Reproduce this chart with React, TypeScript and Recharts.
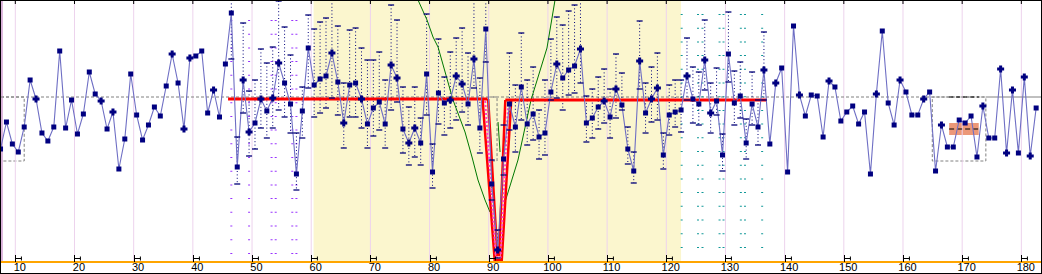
import React from "react";
import {
  ComposedChart,
  Line,
  Scatter,
  XAxis,
  YAxis,
  ReferenceArea,
  ReferenceLine,
} from "recharts";

const CHART_W = 1040;
const CHART_H = 272;
const X_MIN = 7.58;
const X_MAX = 183.32;
const Y_MIN = -165;
const Y_MAX = 96;

const xTicks = [10, 20, 30, 40, 50, 60, 70, 80, 90, 100, 110, 120, 130, 140, 150, 160, 170, 180];

// main series, one value per category starting at 7
const FIRST_CAT = 7;
const mainValues = [
  -52, -25, -47, -55, -30, 17, -2, -36, -44, -30,
  46, -31, -3, -37, -17, 25, 3, -4, -32, -15,
  -72, -42, 23, -18, -43, -28, -10, -19, 11, 43,
  14, -32, 39, 41, 46, -16, 7, -20, 33, 84,
  -70, 17, -35, -26, -2, -14, -1, 34, 14, -7,
  -77, -14, 49, 12, 18, 21, 44, 15, -26, 12,
  14, -2, -27, -11, -5, -27, 32, 19, -32, -46,
  -31, -46, 23, -75, 4, -6, -3, 21, 13, -7,
  38, -31, 68, -87, -153, -62, -7, -30, 10, -27,
  -17, -40, -36, 5, 33, 19, 27, 31, 48, -26,
  -21, -10, -4, -20, 8, -8, -52, -74, 36, -16,
  -2, 9, -58, -18, -15, -13, 21, -2, -7, 37,
  -16, -4, -58, 43, -6, 1, -46, -7, -30, 27,
  -47, 14, 29, -75, 71, 2, -19, 2, 1, -40,
  16, 10, -24, -15, -9, -27, -15, -77, 3, 66,
  -6, -28, 17, 5, -18, -18, -2, 5, -74, -28,
  -50, -50, -23, -26, -19, -60, -9, -41, -41, 28,
  -56, 7, -56, 20, -59, -11,
];
// categories drawn with a cross marker
const crossCats = [
  13, 24, 26, 36, 38, 39, 43, 48, 49, 51, 53, 54, 63, 65, 68, 73, 74, 76, 77, 83,
  84, 85, 87, 91, 101, 105, 109, 111, 115, 117, 118, 123, 126, 127, 136, 138, 142,
  147, 155, 159, 163, 166, 173, 176, 177, 178, 180, 181,
];

// range columns (dotted with caps), categories 46..136
const FIRST_RANGE_CAT = 46;
const rangeHi = [
  97, -40, 74, 6, 17, 48, 34, 50, 96, 70, 42, -36, 10, 82, 68, 75, 79, 97, 71, 14,
  67, 69, 49, 37, 37, 45, 17, 92, 77, 10, -10, 10, -21, 83, -47, 58, 20, 45, 59, 69,
  44, 97, 19, 97, -63, -133, -28, 44, 12, 64, 17, 30, -13, 17, 58, 80, 72, 86, 92, 97,
  1, 8, 20, 28, 8, 43, 24, -30, -55, 76, 14, 30, 44, -36, 12, 17, 17, 59, 30, 25,
  77, 14, 29, -37, 85, 26, 35, -22, 25, -3, 65,
];
const rangeLo = [
  38, -87, -16, -59, -52, -31, -41, -31, -13, -20, -36, -93, -41, 9, -20, -16, -11, -1, -18, -51,
  -20, -20, -31, -51, -39, -33, -51, -13, -5, -56, -68, -60, -68, -18, -91, -27, -38, -31, -23, -15,
  -28, 9, -56, 35, -103, -161, -78, -33, -55, -23, -48, -43, -62, -58, -3, -1, -13, 2, 4, 14,
  -45, -41, -32, -26, -41, -21, -13, -67, -86, 8, -36, -25, -23, -72, -38, -30, -35, -3, -26, -28,
  7, -36, -18, -74, 15, -28, -21, -62, -28, -48, -3,
];

// dotted marker columns
const purpleCols = [46.5, 49.5, 53.3, 54.0, 56.8, 57.5];
const purpleTop = 77;
const tealCols = [122.6, 125.36, 126.12, 129.0, 129.67, 132.6, 133.3, 136.2];
const tealTop = 83;
const colBottom = -161;

// fitted envelope (green)
const greenLeft = [
  { x: 78.05, v: 97 }, { x: 79.57, v: 77 }, { x: 80.58, v: 60 }, { x: 81.43, v: 50 },
  { x: 83.96, v: -3 }, { x: 85.99, v: -35 }, { x: 87.17, v: -60 }, { x: 88.18, v: -83 },
  { x: 89.37, v: -103 }, { x: 90.21, v: -115 },
];
const greenRight = [
  { x: 92.75, v: -105 }, { x: 94.94, v: -63 }, { x: 97.14, v: -3 }, { x: 99.84, v: 49 },
  { x: 101.2, v: 97 },
];
const greenMid = [{ x: 91.57, v: -25 }, { x: 91.91, v: -55 }];

// red level line and its dip
const redLeft = [{ x: 45.95, v: -2 }, { x: 89.8, v: -2 }];
const redRight = [{ x: 92.8, v: -3 }, { x: 137.0, v: -3 }];
const redOuter = [
  { x: 88.95, v: -2 }, { x: 91.0, v: -163 }, { x: 92.2, v: -163 }, { x: 93.8, v: -3 },
];
const redInner = [
  { x: 89.9, v: -2 }, { x: 91.45, v: -158 }, { x: 91.75, v: -158 }, { x: 92.8, v: -3 },
];
const pinkMid = [
  { x: 89.4, v: -4 }, { x: 91.2, v: -160 }, { x: 92.0, v: -160 }, { x: 93.3, v: -5 },
];

const meanDashEnd = 174.0;
const boxes = [
  { x1: X_MIN, x2: 11.5, y1: 0, y2: -64 },
  { x1: 89.9, x2: 91.4, y1: 0, y2: -64 },
  { x1: 164.95, x2: 174.0, y1: 0, y2: -64 },
];
const salmon = { x1: 167.8, x2: 172.8, y1: -26, y2: -38, mid: -32 };
const band = { x1: 60.4, x2: 122.5 };

const mainData = mainValues.map((v, i) => ({
  x: FIRST_CAT + i + 0.5,
  v,
  cross: crossCats.includes(FIRST_CAT + i),
}));

const rangeLines: { x: number; v: number | null }[] = [];
const caps: { x: number; v: number }[] = [];
rangeHi.forEach((hi, i) => {
  const x = FIRST_RANGE_CAT + i + 0.5;
  const lo = rangeLo[i];
  rangeLines.push({ x, v: hi }, { x, v: lo }, { x, v: null });
  caps.push({ x, v: hi }, { x, v: lo });
});

const colLines = (cols: number[], top: number) => {
  const out: { x: number; v: number | null }[] = [];
  cols.forEach((x) => out.push({ x, v: top }, { x, v: colBottom }, { x, v: null }));
  return out;
};

const PX_PER_UNIT = CHART_W / (X_MAX - X_MIN);

const renderBottomTick = (props: any) => {
  const { x, y, payload } = props;
  const xs = Math.round(x) + 0.5;
  const u = PX_PER_UNIT;
  return (
    <g>
      <line x1={xs} y1={y - 7} x2={xs} y2={y} stroke="#000" />
      <line x1={xs} y1={y - 3.5} x2={xs + u} y2={y - 3.5} stroke="#000" />
      <line x1={xs + u} y1={y - 5.5} x2={xs + u} y2={y - 1.5} stroke="#000" />
      <text
        x={x + u / 2 + 1.5}
        y={y + 8.5}
        textAnchor="middle"
        fontFamily="'Liberation Sans', Arial, sans-serif"
        fontSize={11}
        fill="#000"
      >
        {payload.value}
      </text>
    </g>
  );
};

const renderDot = (p: any) => {
  const { cx, cy, payload, index } = p;
  if (cx == null || cy == null) return <g key={index} />;
  if (payload.cross) {
    return (
      <path
        key={index}
        d={`M${cx - 1.5},${cy - 3.5}h3v2h2v3h-2v2h-3v-2h-2v-3h2z`}
        fill="#000080"
      />
    );
  }
  return <rect key={index} x={cx - 2.5} y={cy - 2.5} width={5} height={5} fill="#000080" />;
};

const CapShape = (p: any) => (
  <line x1={p.cx - 3} x2={p.cx + 3} y1={p.cy} y2={p.cy} stroke="#000078" strokeWidth={1.3} />
);

export default function App() {
  return (
    <div
      style={{
        width: 1042,
        height: 274,
        boxSizing: "border-box",
        border: "1px solid #000",
        background: "#fff",
        overflow: "hidden",
      }}
    >
      <style>{"body{margin:0}"}</style>
      <ComposedChart
        width={CHART_W}
        height={CHART_H}
        margin={{ top: 0, right: 0, bottom: 0, left: 0 }}
      >
        <XAxis
          type="number"
          dataKey="x"
          domain={[X_MIN, X_MAX]}
          allowDataOverflow
          ticks={xTicks}
          interval={0}
          height={11}
          tickLine={false}
          tickSize={0}
          tickMargin={0}
          axisLine={{ stroke: "#FFA500", strokeWidth: 2 }}
          tick={renderBottomTick}
        />
        <YAxis type="number" dataKey="v" hide domain={[Y_MIN, Y_MAX]} allowDataOverflow />

        <ReferenceArea
          x1={band.x1}
          x2={band.x2}
          y1={Y_MIN}
          y2={Y_MAX}
          fill="#FBF6CE"
          fillOpacity={1}
          stroke="none"
        />
        <ReferenceLine x={X_MIN + 0.15} stroke="#D9B0D9" strokeWidth={2} />
        {xTicks.map((t) => (
          <ReferenceLine key={"g" + t} x={t} stroke="#EDD3ED" />
        ))}
        {xTicks.map((t) => (
          <ReferenceLine
            key={"tt" + t}
            segment={[
              { x: t, y: Y_MAX },
              { x: t, y: Y_MAX - 3 },
            ]}
            stroke="#000"
          />
        ))}

        <ReferenceLine
          segment={[
            { x: X_MIN, y: 0 },
            { x: meanDashEnd, y: 0 },
          ]}
          stroke="#808080"
          strokeDasharray="3 2"
        />
        <ReferenceLine
          segment={[
            { x: meanDashEnd, y: 0 },
            { x: X_MAX, y: 0 },
          ]}
          stroke="#808080"
        />
        {boxes.map((b, i) => (
          <ReferenceArea
            key={"b" + i}
            x1={b.x1}
            x2={b.x2}
            y1={b.y1}
            y2={b.y2}
            fill="none"
            fillOpacity={0}
            stroke="#808080"
            strokeDasharray="3 2"
          />
        ))}
        <ReferenceArea
          x1={salmon.x1}
          x2={salmon.x2}
          y1={salmon.y1}
          y2={salmon.y2}
          fill="#EC9878"
          fillOpacity={1}
          stroke="none"
        />
        <ReferenceLine
          segment={[
            { x: salmon.x1, y: 0 },
            { x: salmon.x2, y: 0 },
          ]}
          stroke="#000"
          strokeDasharray="4 3"
        />

        <Line
          data={colLines(purpleCols, purpleTop)}
          dataKey="v"
          stroke="#9933FF"
          strokeWidth={2}
          strokeDasharray="1 12.7"
          dot={false}
          activeDot={false}
          connectNulls={false}
          isAnimationActive={false}
        />
        <Line
          data={colLines(tealCols, tealTop)}
          dataKey="v"
          stroke="#109898"
          strokeWidth={2}
          strokeDasharray="1 12.7"
          dot={false}
          activeDot={false}
          connectNulls={false}
          isAnimationActive={false}
        />
        <Line
          data={rangeLines}
          dataKey="v"
          stroke="#00007A"
          strokeWidth={1}
          strokeDasharray="1 2.4"
          dot={false}
          activeDot={false}
          connectNulls={false}
          isAnimationActive={false}
        />
        <Scatter data={caps} dataKey="v" shape={CapShape} isAnimationActive={false} />

        {[greenLeft, greenRight, greenMid].map((d, i) => (
          <Line
            key={"gr" + i}
            data={d}
            dataKey="v"
            stroke="#007800"
            strokeWidth={1}
            dot={false}
            activeDot={false}
            isAnimationActive={false}
          />
        ))}

        {[redLeft, redRight].map((d, i) => (
          <Line
            key={"r" + i}
            data={d}
            dataKey="v"
            stroke="#FF0000"
            strokeWidth={3}
            dot={false}
            activeDot={false}
            isAnimationActive={false}
          />
        ))}
        {[redOuter, redInner].map((d, i) => (
          <Line
            key={"rf" + i}
            data={d}
            dataKey="v"
            stroke="#FF0000"
            strokeWidth={2.5}
            dot={false}
            activeDot={false}
            isAnimationActive={false}
          />
        ))}
        <Line
          data={pinkMid}
          dataKey="v"
          stroke="#FF3FCB"
          strokeWidth={2}
          strokeDasharray="2 2"
          dot={false}
          activeDot={false}
          isAnimationActive={false}
        />
        <ReferenceLine
          segment={[
            { x: salmon.x1, y: salmon.mid },
            { x: salmon.x2, y: salmon.mid },
          ]}
          stroke="#000"
          strokeDasharray="5 3"
        />

        <Line
          data={mainData}
          dataKey="v"
          stroke="#6E6EC4"
          strokeWidth={1.1}
          dot={renderDot}
          activeDot={false}
          isAnimationActive={false}
        />
      </ComposedChart>
    </div>
  );
}
